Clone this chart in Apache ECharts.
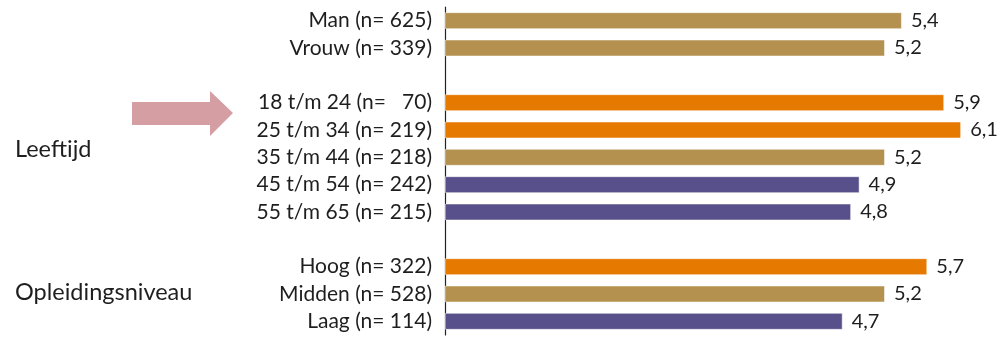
<!DOCTYPE html>
<html>
<head>
<meta charset="utf-8">
<script src="https://cdn.jsdelivr.net/npm/echarts@6/dist/echarts.min.js"></script>
<style>
html, body { margin: 0; padding: 0; background: #fff; }
#chart { width: 1003px; height: 341px; }
</style>
</head>
<body>
<div id="chart"></div>
<script>
var categories = ['Man (n= 625)', 'Vrouw (n= 339)', '', '18 t/m 24 (n=   70)', '25 t/m 34 (n= 219)',
	'35 t/m 44 (n= 218)', '45 t/m 54 (n= 242)', '55 t/m 65 (n= 215)', ' ', 'Hoog (n= 322)',
	'Midden (n= 528)', 'Laag (n= 114)'];
var values = [5.4, 5.2, null, 5.9, 6.1, 5.2, 4.9, 4.8, null, 5.7, 5.2, 4.7];
// boven / gemiddeld / onder het gemiddelde
var levels = ['mid', 'mid', '', 'high', 'high', 'mid', 'low', 'low', '', 'high', 'mid', 'low'];
var groupLabels = ['Leeftijd', 'Opleidingsniveau'];

var colors = { high: '#E67A00', mid: '#B4914F', low: '#58508A' };
var font = 'Lato, "Open Sans", sans-serif';

var chart = echarts.init(document.getElementById('chart'));

var barData = values.map(function (v, i) {
	return {
		value: v,
		itemStyle: { color: colors[levels[i]] || '#999' }
	};
});

chart.setOption({
	animation: false,
	grid: { left: 445, right: 8, top: 7, height: 328, containLabel: false },
	xAxis: {
		type: 'value',
		min: 0,
		max: 6.5,
		show: false
	},
	yAxis: {
		type: 'category',
		inverse: true,
		data: categories,
		axisLine: { show: true, lineStyle: { color: '#222', width: 1.2 } },
		axisTick: { show: false },
		axisLabel: { margin: 13, fontSize: 21, color: '#1e1e1e', fontFamily: font }
	},
	series: [{
		type: 'bar',
		data: barData,
		barWidth: 17,
		itemStyle: { borderColor: 'rgba(255,255,255,0.5)', borderWidth: 1 },
		label: {
			show: true,
			position: 'right',
			distance: 9,
			fontSize: 20,
			color: '#1e1e1e',
			fontFamily: font,
			formatter: function (p) { return String(p.value).replace('.', ','); }
		}
	}],
	graphic: [
		{
			type: 'polygon',
			shape: { points: [[132, 102], [210, 102], [210, 91], [233, 113], [210, 136], [210, 125], [132, 125]] },
			style: { fill: '#D49EA2' }
		},
		{
			type: 'text', left: 15, top: 137,
			style: { text: groupLabels[0], fill: '#1e1e1e', font: '23.5px ' + font }
		},
		{
			type: 'text', left: 15, top: 280,
			style: { text: groupLabels[1], fill: '#1e1e1e', font: '23.5px ' + font }
		}
	]
});
</script>
</body>
</html>
